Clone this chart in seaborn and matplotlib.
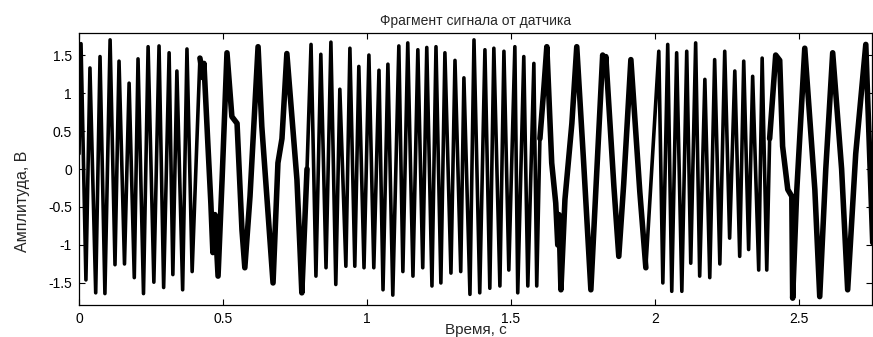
import matplotlib
matplotlib.use("Agg")
import matplotlib.pyplot as plt
import matplotlib.ticker as mticker
import seaborn as sns
import pandas as pd

# extrema of the sensor signal (time in s, amplitude in V)
t_start = [0.000, 0.007, 0.024, 0.038, 0.058, 0.073, 0.090, 0.108, 0.125, 0.139,
           0.158, 0.174, 0.192, 0.205, 0.224, 0.240, 0.260, 0.278, 0.294, 0.313,
           0.326, 0.340, 0.360, 0.375, 0.393]
v_start = [0.20, 1.65, -1.46, 1.33, -1.63, 1.48, -1.64, 1.70, -1.26, 1.42,
           -1.25, 1.13, -1.43, 1.45, -1.64, 1.61, -1.49, 1.62, -1.56, 1.53,
           -1.39, 1.29, -1.59, 1.58, -1.35]

t_slow1 = [0.420, 0.431, 0.434, 0.448, 0.458, 0.465, 0.472, 0.483, 0.497, 0.514,
           0.531, 0.549, 0.566, 0.576, 0.594, 0.622, 0.635, 0.674, 0.691, 0.705,
           0.722, 0.757, 0.767, 0.774, 0.792]
v_slow1 = [1.46, 1.20, 1.39, 0.30, -0.45, -1.10, -0.60, -1.41, -0.14, 1.53,
           0.69, 0.60, -0.80, -1.30, -0.36, 1.61, 0.56, -1.50, 0.08, 0.40,
           1.52, -0.14, -1.00, -1.63, 0.00]

t_mid = [0.806, 0.823, 0.840, 0.858, 0.875, 0.892, 0.906, 0.927, 0.941, 0.958,
         0.972, 0.990, 1.007, 1.024, 1.042, 1.056, 1.073, 1.090, 1.111, 1.125,
         1.142, 1.160, 1.177, 1.194, 1.208, 1.226, 1.240, 1.257, 1.271, 1.292,
         1.306, 1.326, 1.337, 1.358, 1.372, 1.392, 1.410, 1.427, 1.441, 1.462,
         1.476, 1.493, 1.514, 1.524, 1.545, 1.559, 1.580, 1.590]
v_mid = [1.64, -1.41, 1.51, -1.30, 1.67, -1.52, 1.05, -1.28, 1.59, -1.28,
         1.35, -1.30, 1.50, -1.30, 1.30, -1.59, 1.38, -1.66, 1.62, -1.35,
         1.66, -1.41, 1.57, -1.30, 1.60, -1.54, 1.61, -1.50, 1.53, -1.37,
         1.43, -1.35, 1.20, -1.65, 1.70, -1.63, 1.57, -1.57, 1.59, -1.54,
         1.55, -1.33, 1.61, -1.63, 1.48, -1.54, 1.39, -1.54]

t_slow2 = [1.601, 1.615, 1.625, 1.642, 1.656, 1.663, 1.667, 1.674, 1.688, 1.712,
           1.729, 1.753, 1.778, 1.795, 1.819, 1.826, 1.830, 1.858, 1.875, 1.892,
           1.917, 1.948, 1.969]
v_slow2 = [0.40, 1.08, 1.61, 0.08, -0.45, -1.00, -0.60, -1.59, -0.40, 0.60,
           1.61, 0.08, -1.59, -0.30, 1.50, 1.30, 1.48, -0.23, -1.15, -0.20,
           1.44, -0.30, -1.30]

t_late = [2.014, 2.028, 2.045, 2.059, 2.076, 2.094, 2.111, 2.125, 2.142, 2.156,
          2.174, 2.191, 2.208, 2.226, 2.243, 2.260, 2.278, 2.295, 2.309, 2.326,
          2.340, 2.361, 2.373, 2.389]
v_late = [1.55, -1.50, 1.64, -1.61, 1.53, -1.61, 1.55, -1.24, 1.66, -1.41,
          1.18, -1.43, 1.44, -1.25, 1.55, -0.91, 1.29, -1.15, 1.42, -1.06,
          1.22, -1.33, 1.46, -1.33]

t_slow3 = [2.399, 2.420, 2.434, 2.444, 2.462, 2.476, 2.479, 2.493, 2.521, 2.556,
           2.573, 2.594, 2.618, 2.649, 2.670, 2.698, 2.733, 2.757]
v_slow3 = [0.40, 1.50, 1.43, 0.30, -0.27, -0.36, -1.70, -0.30, 1.59, -0.27,
           -1.68, 0.00, 1.53, 0.00, -1.59, 0.20, 1.64, -0.97]

x_ticks = [0, 0.5, 1, 1.5, 2, 2.5]
y_ticks = [-1.5, -1, -0.5, 0, 0.5, 1, 1.5]

signal = pd.DataFrame({
    "t": t_start + t_slow1 + t_mid + t_slow2 + t_late + t_slow3,
    "v": v_start + v_slow1 + v_mid + v_slow2 + v_late + v_slow3,
})
# the slow parts look like thick fuzzy bands in the original
slow_parts = [(t_slow1, v_slow1), (t_slow2, v_slow2), (t_slow3, v_slow3)]

sns.set_style("ticks")
plt.rcParams["font.family"] = ["Liberation Sans", "DejaVu Sans"]
plt.rcParams["axes.unicode_minus"] = False

fig = plt.figure(figsize=(8.73, 3.37), dpi=100)
ax = fig.add_axes([0.0905, 0.095, 0.9085, 0.807])

sns.lineplot(data=signal, x="t", y="v", color="black", linewidth=2.6,
             estimator=None, sort=False, ax=ax)
for ts, vs in slow_parts:
    seg = pd.DataFrame({"t": ts, "v": vs})
    sns.lineplot(data=seg, x="t", y="v", color="black", linewidth=4.0,
                 estimator=None, sort=False, ax=ax)

ax.set_xlim(0, 2.755)
ax.set_ylim(-1.79, 1.79)
ax.set_xticks(x_ticks)
ax.set_yticks(y_ticks)
ax.xaxis.set_major_formatter(mticker.FormatStrFormatter("%g"))
ax.yaxis.set_major_formatter(mticker.FormatStrFormatter("%g"))
ax.tick_params(direction="in", length=4, width=0.8, top=True, right=True,
               labelsize=10, pad=5, colors="black")
for s in ax.spines.values():
    s.set_linewidth(0.9)
    s.set_color("black")

ax.set_title("Фрагмент сигнала от датчика", fontsize=10, pad=6)
ax.set_xlabel("Время, с", fontsize=11)
ax.xaxis.set_label_coords(0.5, -0.065)
ax.set_ylabel("Амплитуда, В", fontsize=11.5,
              family=["Liberation Sans Narrow", "Liberation Sans", "DejaVu Sans"])
ax.yaxis.set_label_coords(-0.062, 0.38)

fig.savefig("out.png", dpi=100)
